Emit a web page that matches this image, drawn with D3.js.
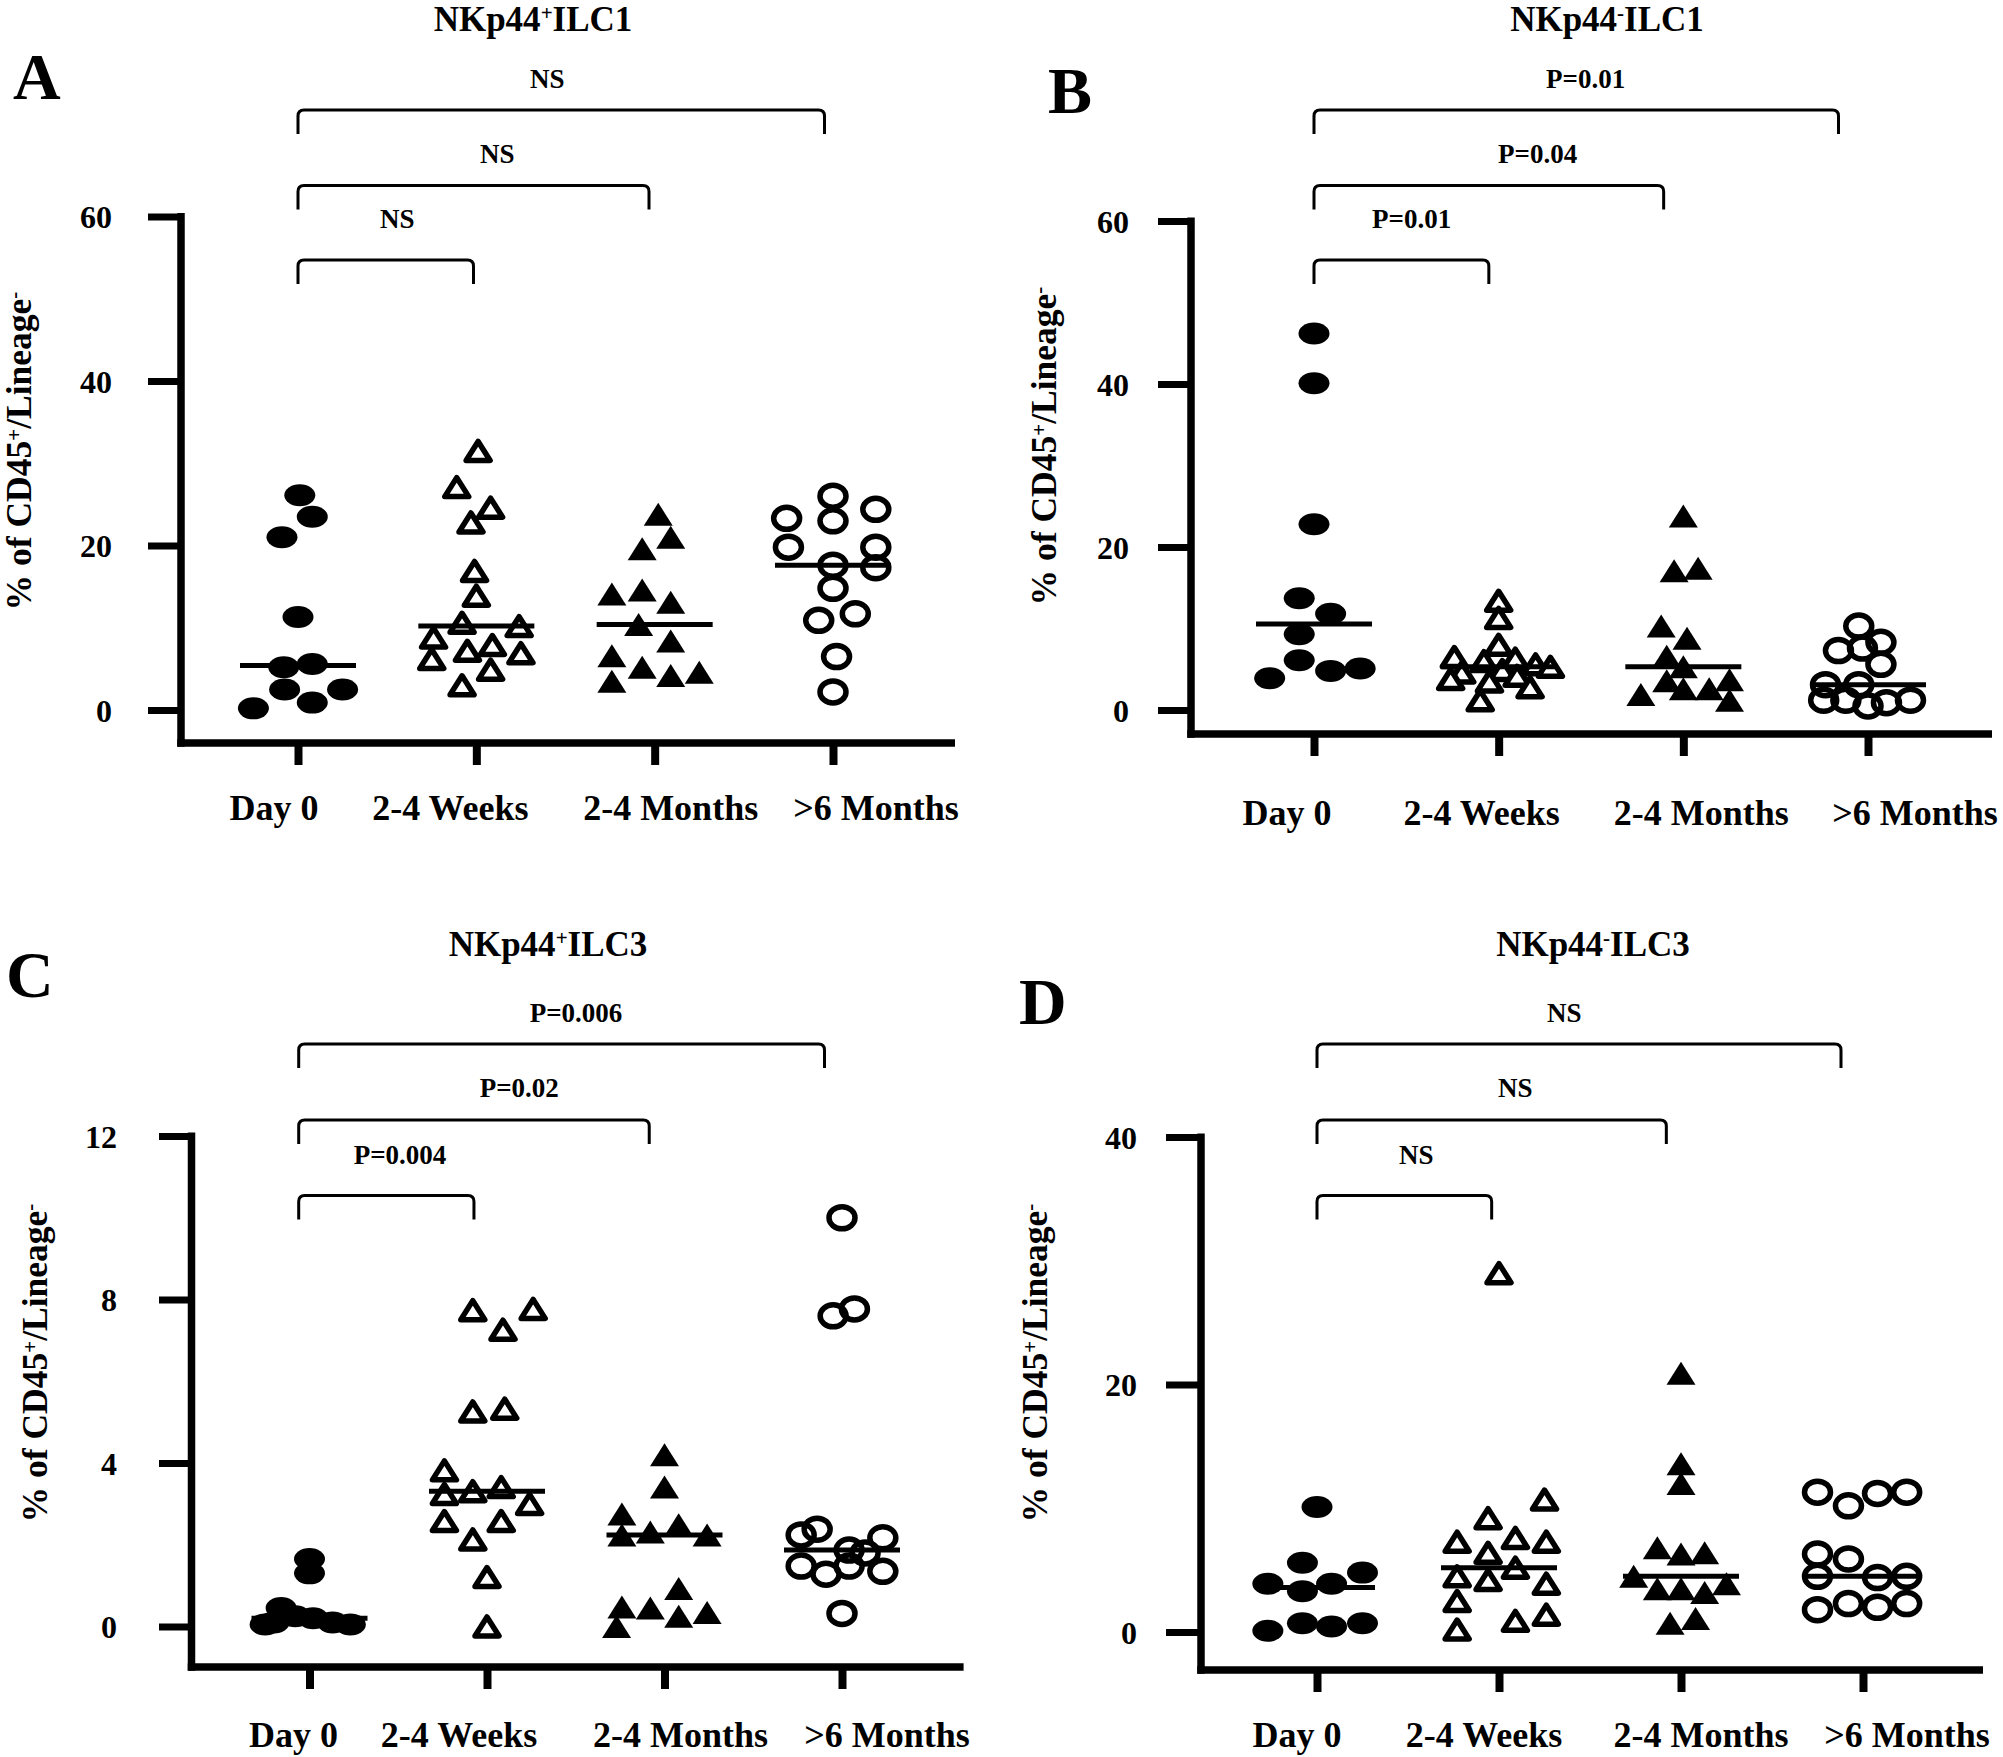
<!DOCTYPE html>
<html><head><meta charset="utf-8">
<script src="https://cdn.jsdelivr.net/npm/d3@7"></script>
<style>
body{margin:0;background:#fff}
svg{display:block}
text{font-family:"Liberation Serif","Times New Roman",serif;font-weight:bold;fill:#000}
</style>
</head><body>
<svg id="c" width="2003" height="1757"></svg>
<script>
// ---------- DATA ----------
const categories = ["Day 0", "2-4 Weeks", "2-4 Months", ">6 Months"];

// Panel A: NKp44+ ILC1
const aDay0   = [26.1, 23.5, 21.0, 11.3, 5.2, 5.6, 2.5, 2.5, 0.2, 0.9];
const aWeeks  = [31.5, 27.1, 24.6, 22.8, 16.9, 13.9, 10.6, 8.8, 10.2, 7.9, 7.2, 6.2, 6.9, 4.9, 3.0];
const aMonths = [23.8, 21.0, 19.6, 14.1, 14.6, 13.1, 10.4, 8.4, 6.6, 5.2, 4.6, 4.2, 3.5];
const aLate   = [26.0, 23.3, 23.0, 24.4, 19.8, 19.8, 17.6, 17.3, 14.8, 10.9, 11.7, 6.5, 2.2];

// Panel B: NKp44- ILC1
const bDay0   = [46.2, 40.1, 22.8, 13.7, 11.8, 9.3, 6.1, 3.9, 4.8, 5.1];
const bWeeks  = [13.4, 11.3, 8.0, 6.5, 6.3, 6.0, 5.6, 5.3, 4.9, 4.6, 4.2, 3.8, 3.5, 2.8, 1.2];
const bMonths = [23.8, 17.1, 17.4, 10.3, 8.8, 6.6, 5.3, 3.6, 3.7, 1.9, 2.6, 2.6, 1.2];
const bLate   = [10.3, 7.3, 7.6, 8.3, 5.6, 3.1, 3.1, 1.2, 1.2, 0.5, 0.9, 1.2];

// Panel C: NKp44+ ILC3
const cDay0   = [1.65, 1.3, 0.45, 0.25, 0.2, 0.1, 0.1, 0.05, 0.05];
const cWeeks  = [7.74, 7.77, 7.26, 5.26, 5.33, 3.82, 3.31, 3.41, 3.24, 3.0, 2.58, 2.58, 2.13, 1.21, 0];
const cMonths = [4.2, 3.41, 2.75, 2.24, 2.31, 2.49, 2.24, 0.93, 0.48, 0.45, 0.25, 0.34, 0];
const cLate   = [10.0, 7.6, 7.77, 2.38, 2.24, 2.17, 1.87, 1.8, 1.48, 1.48, 1.28, 1.35, 0.32];

// Panel D: NKp44- ILC3
const dDay0   = [10.1, 5.6, 4.8, 3.9, 3.9, 3.3, 0.1, 0.7, 0.45, 0.7];
const dWeeks  = [29.0, 10.7, 9.2, 7.3, 7.6, 7.3, 6.4, 4.5, 5.2, 4.2, 3.9, 2.5, 0.2, 0.9, 1.4];
const dMonths = [20.9, 13.6, 12.0, 6.8, 6.3, 6.4, 4.5, 3.9, 3.5, 3.5, 3.2, 0.7, 1.1];
const dLate   = [11.3, 10.2, 11.2, 11.3, 6.3, 5.9, 4.5, 4.4, 4.5, 1.8, 2.3, 2.0, 2.3];

// Tick labels
const ticksA = [0, 20, 40, 60];
const ticksB = [0, 20, 40, 60];
const ticksC = [0, 4, 8, 12];
const ticksD = [0, 20, 40];

// Significance labels (Day 0 vs 2-4 Weeks, vs 2-4 Months, vs >6 Months)
const sigA = ["NS", "NS", "NS"];
const sigB = ["P=0.01", "P=0.04", "P=0.01"];
const sigC = ["P=0.004", "P=0.02", "P=0.006"];
const sigD = ["NS", "NS", "NS"];

// ---------- horizontal scatter offsets (category units) ----------
const jitA = [
  [0.01, 0.08, -0.09, 0, -0.08, 0.08, -0.075, 0.25, -0.25, 0.08],
  [0.01, -0.11, 0.08, -0.03, -0.01, 0, -0.08, -0.24, 0.24, 0.09, -0.05, -0.25, 0.25, 0.08, -0.08],
  [0.02, 0.09, -0.07, -0.24, -0.07, 0.09, -0.09, 0.09, -0.24, -0.07, 0.25, 0.09, -0.24],
  [0, -0.26, 0, 0.24, -0.25, 0.24, 0, 0.24, 0, -0.08, 0.125, 0.02, 0]
];
const jitB = [
  [0, 0, 0, -0.08, 0.09, -0.08, -0.08, -0.24, 0.09, 0.25],
  [0, 0, 0, -0.24, 0.09, -0.08, 0.2, 0.28, 0.02, -0.2, 0.1, -0.26, -0.05, 0.17, -0.1],
  [0, -0.05, 0.08, -0.12, 0.02, -0.09, 0, -0.09, 0.25, -0.23, 0, 0.14, 0.25],
  [-0.05, -0.16, -0.03, 0.07, 0.07, -0.23, -0.05, -0.24, -0.12, 0, 0.1, 0.23]
];
const jitC = [
  [0, 0, -0.16, -0.08, 0.02, 0.13, -0.2, 0.23, -0.25],
  [-0.08, 0.26, 0.09, -0.08, 0.1, -0.24, -0.08, 0.08, -0.24, 0.24, -0.24, 0.08, -0.08, 0, 0],
  [0, 0, -0.24, -0.24, -0.08, 0.08, 0.24, 0.08, -0.24, -0.08, 0.08, 0.24, -0.27],
  [0, -0.05, 0.07, -0.14, -0.23, 0.23, 0.04, 0.13, -0.23, 0.04, -0.09, 0.23, 0]
];
const jitD = [
  [0, -0.08, 0.25, -0.27, 0.08, -0.08, -0.27, -0.08, 0.08, 0.25],
  [0, 0.25, -0.06, -0.23, 0.09, 0.26, -0.06, -0.23, 0.09, -0.06, 0.26, -0.23, -0.23, 0.09, 0.26],
  [0, 0, 0, -0.13, 0, 0.13, -0.26, 0.25, -0.13, 0, 0.13, -0.06, 0.08],
  [-0.25, -0.08, 0.08, 0.24, -0.25, -0.08, -0.25, 0.08, 0.24, -0.25, -0.08, 0.08, 0.24]
];

// ---------- LAYOUT ----------
const panels = [
  { letter: "A", title: ["NKp44", "+", "ILC1"], vals: [aDay0, aWeeks, aMonths, aLate], jit: jitA, ticks: ticksA, yMax: 60, sig: sigA,
    L: { yAxisX: 181, xAxisY: 743, xEnd: 955, y0: 710, yTop: 216.5, cat0: 298, cat3: 833, tickLeft: 148, labelRight: 112, xTick: 22,
         labOff: [-24, -26, 16, 43], labBase: 820, titleX: 533, titleBase: 31, letterX: 13, letterBase: 99,
         yTitleX: 31, yTitleY: 451, brL: 298, brR: 824.5, brY: [260, 185.6, 110], brLabY: [228, 163, 88], brLabDx: [82, 182, 232] } },
  { letter: "B", title: ["NKp44", "-", "ILC1"], vals: [bDay0, bWeeks, bMonths, bLate], jit: jitB, ticks: ticksB, yMax: 60, sig: sigB,
    L: { yAxisX: 1191, xAxisY: 734, xEnd: 1992, y0: 710, yTop: 221, cat0: 1314, cat3: 1868, tickLeft: 1158, labelRight: 1129, xTick: 22,
         labOff: [-27, -17, 18, 47], labBase: 825, titleX: 1607, titleBase: 31, letterX: 1048, letterBase: 113,
         yTitleX: 1056, yTitleY: 446, brL: 1314, brR: 1838.5, brY: [260, 185.6, 110], brLabY: [228, 163, 88], brLabDx: [58, 184, 232] } },
  { letter: "C", title: ["NKp44", "+", "ILC3"], vals: [cDay0, cWeeks, cMonths, cLate], jit: jitC, ticks: ticksC, yMax: 12, sig: sigC,
    L: { yAxisX: 191.5, xAxisY: 1667, xEnd: 963.6, y0: 1626.5, yTop: 1136, cat0: 309.5, cat3: 842, tickLeft: 159, labelRight: 117, xTick: 22,
         labOff: [-16, -28, 16, 45], labBase: 1747, titleX: 548, titleBase: 956, letterX: 6, letterBase: 997,
         yTitleX: 46.5, yTitleY: 1363, brL: 298.7, brR: 824.5, brY: [1195.6, 1120, 1044], brLabY: [1164, 1097, 1022], brLabDx: [55, 181, 231] } },
  { letter: "D", title: ["NKp44", "-", "ILC3"], vals: [dDay0, dWeeks, dMonths, dLate], jit: jitD, ticks: ticksD, yMax: 40, sig: sigD,
    L: { yAxisX: 1201, xAxisY: 1670, xEnd: 1983, y0: 1632, yTop: 1137, cat0: 1317, cat3: 1863, tickLeft: 1166, labelRight: 1137, xTick: 22,
         labOff: [-20, -15, 20, 44], labBase: 1747, titleX: 1593, titleBase: 956, letterX: 1019, letterBase: 1024,
         yTitleX: 1046.5, yTitleY: 1363, brL: 1317, brR: 1841, brY: [1195.6, 1120, 1044], brLabY: [1164, 1097, 1022], brLabDx: [82, 181, 230] } }
];

const FONT = '"Liberation Serif","Times New Roman",serif';
const svg = d3.select("#c");

function triPath(w, h) {
  return `M0,${-h / 2}L${w / 2},${h / 2}L${-w / 2},${h / 2}Z`;
}

panels.forEach(p => {
  const L = p.L;
  const g = svg.append("g");
  const x = d3.scaleLinear().domain([0, 3]).range([L.cat0, L.cat3]);
  const y = d3.scaleLinear().domain([0, p.yMax]).range([L.y0, L.yTop]);

  // y axis ticks + labels
  g.append("g")
    .attr("transform", `translate(${L.yAxisX},0)`)
    .call(d3.axisLeft(y).tickValues(p.ticks).tickSize(L.yAxisX - L.tickLeft)
      .tickPadding(L.tickLeft - L.labelRight).tickFormat(d3.format("d")))
    .call(a => {
      a.select(".domain").remove();
      a.attr("font-family", FONT).attr("font-size", 32).attr("font-weight", "bold");
      a.selectAll("line").attr("stroke", "#000").attr("stroke-width", 7);
      a.selectAll("text").attr("fill", "#000").attr("dy", "0.35em");
    });

  // x axis ticks
  g.append("g")
    .attr("transform", `translate(0,${L.xAxisY})`)
    .call(d3.axisBottom(x).tickValues([0, 1, 2, 3]).tickSize(L.xTick).tickFormat(""))
    .call(a => {
      a.select(".domain").remove();
      a.selectAll("line").attr("stroke", "#000").attr("stroke-width", 8);
    });

  // axis lines
  g.append("line").attr("x1", L.yAxisX).attr("x2", L.yAxisX)
    .attr("y1", y(p.yMax) - 3.5).attr("y2", L.xAxisY + 3.75)
    .attr("stroke", "#000").attr("stroke-width", 7.5);
  g.append("line").attr("x1", L.yAxisX - 3.75).attr("x2", L.xEnd)
    .attr("y1", L.xAxisY).attr("y2", L.xAxisY)
    .attr("stroke", "#000").attr("stroke-width", 7.5);

  // category labels
  g.selectAll("text.cat").data(categories).join("text").attr("class", "cat")
    .attr("x", (d, i) => x(i) + L.labOff[i]).attr("y", L.labBase)
    .attr("text-anchor", "middle").attr("font-size", 36).text(d => d);

  // points
  p.vals.forEach((vals, ci) => {
    const pts = vals.map((v, k) => ({ v, j: p.jit[ci][k] }));
    const sel = g.selectAll(null).data(pts);
    if (ci === 0) {
      sel.join("ellipse").attr("cx", d => x(ci + d.j)).attr("cy", d => y(d.v))
        .attr("rx", 15.5).attr("ry", 11).attr("fill", "#000");
    } else if (ci === 1) {
      sel.join("path").attr("d", triPath(24, 19))
        .attr("transform", d => `translate(${x(ci + d.j)},${y(d.v)})`)
        .attr("fill", "#fff").attr("stroke", "#000").attr("stroke-width", 5.5).attr("stroke-linejoin", "round");
    } else if (ci === 2) {
      sel.join("path").attr("d", triPath(29, 23))
        .attr("transform", d => `translate(${x(ci + d.j)},${y(d.v)})`)
        .attr("fill", "#000");
    } else {
      sel.join("ellipse").attr("cx", d => x(ci + d.j)).attr("cy", d => y(d.v))
        .attr("rx", 13).attr("ry", 11).attr("fill", "none").attr("stroke", "#000").attr("stroke-width", 5.5);
    }
    // median line
    const m = d3.median(vals);
    g.append("line").attr("x1", x(ci) - 58).attr("x2", x(ci) + 58)
      .attr("y1", y(m)).attr("y2", y(m)).attr("stroke", "#000").attr("stroke-width", 5);
  });

  // significance brackets
  const bx = d3.scaleLinear().domain([0, 3]).range([L.brL, L.brR]);
  const comps = [[0, 1], [0, 2], [0, 3]];
  comps.forEach((c, k) => {
    const x1 = bx(c[0]), x2 = bx(c[1]), yy = L.brY[k], r = 6, drop = 24;
    g.append("path")
      .attr("d", `M${x1},${yy + drop}L${x1},${yy + r}Q${x1},${yy} ${x1 + r},${yy}L${x2 - r},${yy}Q${x2},${yy} ${x2},${yy + r}L${x2},${yy + drop}`)
      .attr("fill", "none").attr("stroke", "#000").attr("stroke-width", 3);
    g.append("text").attr("x", L.brL + L.brLabDx[k]).attr("y", L.brLabY[k])
      .attr("font-size", 27).text(p.sig[k]);
  });

  // title
  const t = g.append("text").attr("x", L.titleX).attr("y", L.titleBase)
    .attr("text-anchor", "middle").attr("font-size", 35);
  t.append("tspan").text(p.title[0]);
  t.append("tspan").attr("font-size", 21).attr("dy", -11).text(p.title[1]);
  t.append("tspan").attr("dy", 11).text(p.title[2]);

  // panel letter
  g.append("text").attr("x", L.letterX).attr("y", L.letterBase)
    .attr("font-size", 66).text(p.letter);

  // y axis title
  const yt = g.append("text").attr("transform", `translate(${L.yTitleX},${L.yTitleY}) rotate(-90)`)
    .attr("text-anchor", "middle").attr("font-size", 35.5);
  yt.append("tspan").text("% of CD45");
  yt.append("tspan").attr("font-size", 21).attr("dy", -10).text("+");
  yt.append("tspan").attr("dy", 10).text("/Lineage");
  yt.append("tspan").attr("font-size", 21).attr("dy", -10).text("-");
});
</script>
</body></html>
